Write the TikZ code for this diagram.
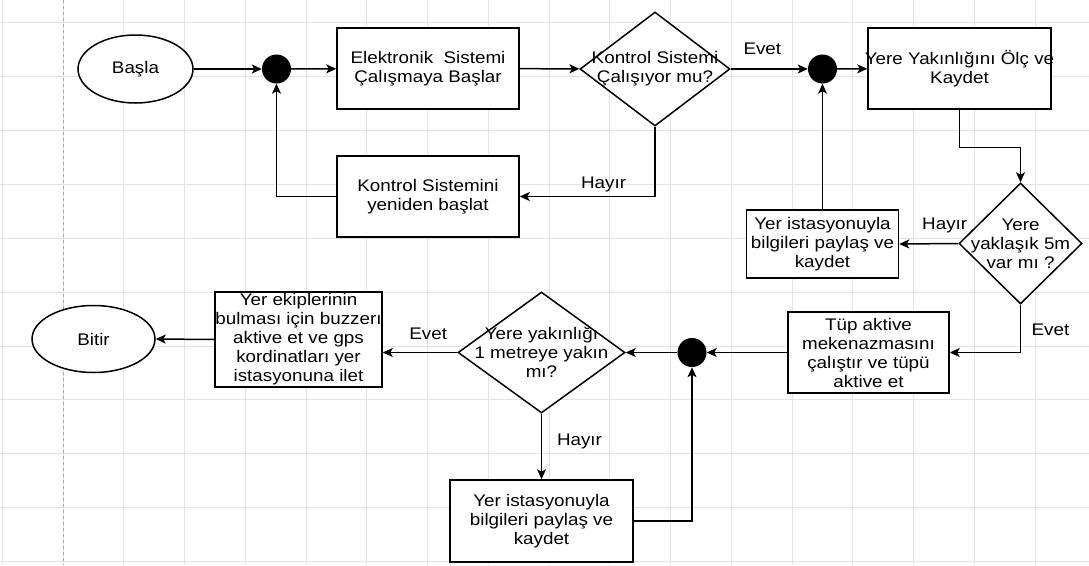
\documentclass[tikz,border=0pt]{standalone}
\usepackage{fontspec}
\setmainfont[FakeStretch=1.12]{Liberation Sans}
\usetikzlibrary{shapes.geometric,arrows.meta}
\newcommand{\fs}{\fontsize{16.8}{19}\selectfont}
\newcommand{\cl}[1]{\makebox[0pt]{\raisebox{-2.5pt}{#1}}}
\tikzset{
  gridline/.style={draw=black!11, line width=0.8pt},
  box/.style={draw, rectangle, line width=1.5pt, inner sep=0pt, align=center, font=\fs, fill=white},
  oval/.style={draw, ellipse, line width=1.5pt, inner sep=0pt, font=\fs, fill=white},
  dia/.style={draw, diamond, line width=1.5pt, inner sep=0pt, align=center, font=\fs, fill=white},
  dot/.style={circle, fill=black, inner sep=0pt, minimum size=29pt},
  arr/.style={line width=1.5pt, -{Stealth[length=10pt,width=9pt,inset=2.5pt]}},
  lbl/.style={font=\fs, inner sep=0pt}
}
\begin{document}
\begin{tikzpicture}[x=1pt,y=-1pt]
\fill[white] (0,0) rectangle (1089,565);
\useasboundingbox (0,0) rectangle (1089,565);
\foreach \i in {-1,...,17} \draw[gridline] ({63+60.75*\i},0) -- ++(0,565);
\foreach \j in {0,...,10} \draw[gridline] (0,{22.5+53.9*\j}) -- ++(1089,0);
\draw[black!35, dashed, line width=0.8pt] (63,0) -- (63,565);

% nodes
\node[oval, minimum width=115pt, minimum height=68pt] (start) at (135.5,69) {Başla};
\node[dot] (dot1) at (276.5,69) {};
\node[box, minimum width=182pt, minimum height=81pt] (b1) at (428,68.5) {\cl{Elektronik~ Sistemi}\\\cl{Çalışmaya Başlar}};
\node[dia, minimum width=150pt, minimum height=114pt] (d1) at (655,69) {\cl{Kontrol Sistemi}\\\cl{Çalışıyor mu?}};
\node[dot] (dot2) at (822.5,69) {};
\node[box, minimum width=183pt, minimum height=81pt] (b2) at (959.5,68.5) {\cl{Yere Yakınlığını Ölç ve}\\\cl{Kaydet}};
\node[box, minimum width=182pt, minimum height=81pt] (b3) at (428,196.5) {\cl{Kontrol Sistemini}\\\cl{yeniden başlat}};
\node[dia, minimum width=123pt, minimum height=121pt] (d2) at (1020.5,243.5) {\cl{Yere}\\\cl{yaklaşık 5m}\\\cl{var mı ?}};
\node[box, minimum width=152pt, minimum height=68pt] (b4) at (822.5,244) {\cl{Yer istasyonuyla}\\\cl{bilgileri paylaş ve}\\\cl{kaydet}};
\node[box, minimum width=161pt, minimum height=81pt] (b5) at (868.5,352.5) {\cl{Tüp aktive}\\\cl{mekenazmasını}\\\cl{çalıştır ve tüpü}\\\cl{aktive et}};
\node[dot] (dot3) at (692,352.5) {};
\node[dia, minimum width=167pt, minimum height=121pt] (d3) at (541.5,352.5) {\cl{Yere yakınlığı}\\\cl{1 metreye yakın}\\\cl{mı?}};
\node[box, minimum width=183pt, minimum height=82pt] (b6) at (541.5,521) {\cl{Yer istasyonuyla}\\\cl{bilgileri paylaş ve}\\\cl{kaydet}};
\node[box, minimum width=167pt, minimum height=95pt] (b7) at (298.5,339.5) {\cl{Yer ekiplerinin}\\\cl{bulması için buzzerı}\\\cl{aktive et ve gps}\\\cl{kordinatları yer}\\\cl{istasyonuna ilet}};
\node[oval, minimum width=123pt, minimum height=67pt] (bitir) at (93.5,339) {Bitir};

% connectors
\draw[arr] (start) -- (dot1);
\draw[arr] (dot1) -- (b1);
\draw[arr] (b1) -- (d1);
\draw[arr] (d1.east) -- node[lbl, pos=0.41, yshift=20pt] {Evet} (dot2.west);
\draw[arr] (dot2) -- (b2);
\draw[arr] (b2.south) -- ++(0,37.5) -| (d2.north);
\draw[arr] (d1.south) |- node[lbl, pos=0.69, yshift=12pt] {Hayır} (b3.east);
\draw[arr] (b3.west) -| (dot1.south);
\draw[arr] (d2.west) -- node[lbl, pos=0.23, yshift=18pt] {Hayır} (b4.east);
\draw[arr] (b4.north) -- (dot2.south);
\draw[arr] (d2.south) |- node[lbl, pos=0.26, xshift=30pt] {Evet} (b5.east);
\draw[arr] (b5.west) -- (dot3.east);
\draw[arr] (dot3.west) -- (d3.east);
\draw[arr] (d3.south) -- node[lbl, pos=0.42, xshift=38pt] {Hayır} (b6.north);
\draw[arr] (b6.east) -| (dot3.south);
\draw[arr] (d3.west) -- node[lbl, pos=0.39, yshift=19pt] {Evet} (d3.west -| b7.east);
\draw[arr] (b7.west) -- (bitir.east);
\end{tikzpicture}
\end{document}
